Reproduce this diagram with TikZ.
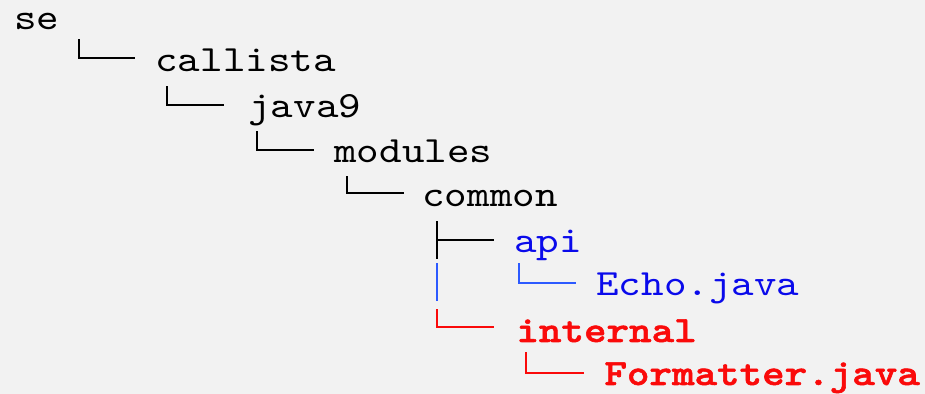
\documentclass[tikz,border=0pt]{standalone}
\usepackage{fontspec}
\newfontfamily\courfont{lmmono10-regular.otf}[FakeStretch=1.16,BoldFont=lmmonolt10-bold.otf,BoldFeatures={FakeStretch=1.16,FakeBold=1.5}]
\definecolor{bg}{RGB}{242,242,242}
\definecolor{tblue}{RGB}{10,10,235}
\definecolor{lblue}{RGB}{45,90,255}
\definecolor{tred}{RGB}{250,10,10}
\begin{document}
\begin{tikzpicture}[x=0.5pt,y=-0.5pt,
  lbl/.style={anchor=base west,inner sep=0pt,font=\fontsize{18.5}{20}\selectfont\courfont},
  blu/.style={lbl,text=tblue},
  rd/.style={lbl,text=tred,font=\fontsize{18.5}{20}\selectfont\courfont\bfseries},
  conn/.style={line width=0.8pt,line cap=rect},
  bconn/.style={conn,draw=lblue},
  rconn/.style={conn,draw=tred}]
\fill[bg] (0,0) rectangle (925,394);
\useasboundingbox (0,0) rectangle (925,394);
\node[lbl] (se) at (14,30) {se};
\node[lbl] (callista) at (155,72) {callista};
\node[lbl] (java9) at (248,118) {java9};
\node[lbl] (modules) at (334,163) {modules};
\node[lbl] (common) at (422,207) {common};
\node[blu] (api) at (514,253) {api};
\node[blu] (echo) at (596,296) {Echo.java};
\node[rd] (internal) at (516,342) {internal};
\node[rd] (formatter) at (604,385) {Formatter.java};
% connector corners
\coordinate (c1a) at (79,40);  \coordinate (c1b) at (79,58);  \coordinate (c1c) at (134,58);
\coordinate (c2a) at (167,87); \coordinate (c2b) at (167,105); \coordinate (c2c) at (223,105);
\coordinate (c3a) at (257,132);\coordinate (c3b) at (257,150); \coordinate (c3c) at (313,150);
\coordinate (c4a) at (347,177);\coordinate (c4b) at (347,193); \coordinate (c4c) at (403,193);
\coordinate (t1a) at (437,222);\coordinate (t1b) at (437,258); \coordinate (t1m) at (437,240); \coordinate (t1c) at (493,240);
\coordinate (v1a) at (437,264);\coordinate (v1b) at (437,300);
\coordinate (r1a) at (437,310);\coordinate (r1b) at (437,327); \coordinate (r1c) at (493,327);
\coordinate (e1a) at (519,264);\coordinate (e1b) at (519,283); \coordinate (e1c) at (575,283);
\coordinate (f1a) at (526,353);\coordinate (f1b) at (526,373); \coordinate (f1c) at (583,373);
\draw[conn] (c1a) -- (c1b) -- (c1c);
\draw[conn] (c2a) -- (c2b) -- (c2c);
\draw[conn] (c3a) -- (c3b) -- (c3c);
\draw[conn] (c4a) -- (c4b) -- (c4c);
\draw[conn] (t1a) -- (t1b);
\draw[conn] (t1m) -- (t1c);
\draw[bconn] (v1a) -- (v1b);
\draw[bconn] (e1a) -- (e1b) -- (e1c);
\draw[rconn] (r1a) -- (r1b) -- (r1c);
\draw[rconn] (f1a) -- (f1b) -- (f1c);
\end{tikzpicture}
\end{document}
